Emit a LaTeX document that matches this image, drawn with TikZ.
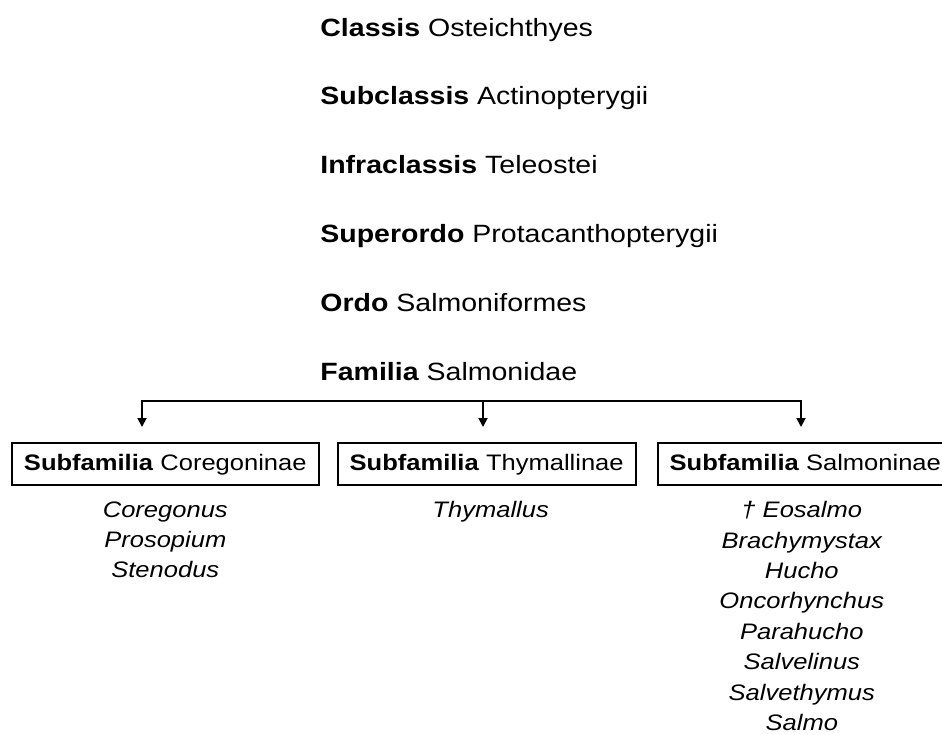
\documentclass[tikz,border=0pt]{standalone}
\usepackage{fontspec}
\setmainfont{Liberation Sans}[FakeStretch=1.14]
\usetikzlibrary{arrows.meta,positioning}

\begin{document}
\begin{tikzpicture}[
    x=0.5pt, y=-0.5pt,
    node distance=21.8pt,
    rank/.style={inner sep=0pt, text height=9.5pt, text depth=2.7pt, font=\fontsize{12.5}{15}\selectfont},
    subfam/.style={draw, line width=1pt, inner xsep=6pt, inner ysep=0pt, minimum height=21pt, text height=8.4pt, text depth=2.4pt, font=\fontsize{11.2}{13}\selectfont},
    genera/.style={align=center, inner sep=0pt, font=\fontsize{11.2}{15.2}\selectfont\itshape},
    link/.style={-{Triangle[length=4.5pt,width=4.5pt]}, line width=0.9pt, shorten >=7.5pt}
]
\useasboundingbox (0,0) rectangle (942,734);
% ranks down to the family
\node[rank, anchor=base west] (classis) at (320,36) {\textbf{Classis} Osteichthyes};
\node[rank, below=of classis.south west, anchor=north west] (subclassis) {\textbf{Subclassis} Actinopterygii};
\node[rank, below=of subclassis.south west, anchor=north west] (infraclassis) {\textbf{Infraclassis} Teleostei};
\node[rank, below=of infraclassis.south west, anchor=north west] (superordo) {\textbf{Superordo} Protacanthopterygii};
\node[rank, below=of superordo.south west, anchor=north west] (ordo) {\textbf{Ordo} Salmoniformes};
\node[rank, below=of ordo.south west, anchor=north west] (familia) {\textbf{Familia} Salmonidae};
% subfamilies
\node[subfam, anchor=north west] (coreg) at (11,442) {\textbf{Subfamilia} Coregoninae};
\node[subfam, right=8.5pt of coreg] (thym) {\textbf{Subfamilia} Thymallinae};
\node[subfam, right=10pt of thym] (salm) {\textbf{Subfamilia} Salmoninae};
% genera
\node[genera, below=7.5pt of coreg] (coregG) {Coregonus\\Prosopium\\Stenodus};
\node[genera, below=7.5pt of thym, xshift=2pt] (thymG) {Thymallus};
\node[genera, below=7.5pt of salm, xshift=-1.75pt] (salmG) {\dag\ Eosalmo\\Brachymystax\\Hucho\\Oncorhynchus\\Parahucho\\Salvelinus\\Salvethymus\\Salmo};
% split
\coordinate (split1) at (142,401);
\coordinate (split2) at (483,401);
\coordinate (split3) at (801,401);
\draw[link] (split2) -- (split1) -- (split1 |- coreg.north);
\draw[link] (split2) -- (split3) -- (split3 |- salm.north);
\draw[link] (split2) -- (split2 |- thym.north);
\end{tikzpicture}
\end{document}
